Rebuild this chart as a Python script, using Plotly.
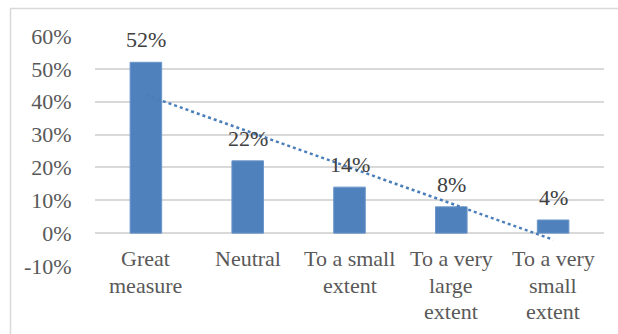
import numpy as np
import plotly.graph_objects as go

categories = ["Great<br>measure", "Neutral", "To a small<br>extent",
              "To a very<br>large<br>extent", "To a very<br>small<br>extent"]
values = [52, 22, 14, 8, 4]
y_ticks = [-10, 0, 10, 20, 30, 40, 50, 60]
y_tick_labels = ["-10%", "0%", "10%", "20%", "30%", "40%", "50%", "60%"]

W, H = 618, 334
ML, MR, MT, MB = 95, 14, 36, 68
FONT = "Liberation Serif"
BLUE = "#4f81bd"
GRID = "#d9d9d9"
LINE_STEP = 26.5  # px between wrapped category-label lines

xs = list(range(len(categories)))

# linear trendline fitted to the bar values
slope, intercept = np.polyfit(np.array(xs) + 1, values, 1)
trend_y = [slope * (x + 1) + intercept for x in xs]

fig = go.Figure()
fig.add_trace(go.Bar(
    x=xs, y=values, width=0.31,
    marker=dict(color=BLUE, line=dict(color="#6b95c9", width=1)),
    hoverinfo="skip",
))
fig.add_trace(go.Scatter(
    x=[xs[0], xs[-1]], y=[trend_y[0], trend_y[-1]], mode="lines",
    line=dict(color="#4a7ebb", width=2.5, dash="dot"),
    hoverinfo="skip",
))

annotations = []
for x, v in zip(xs, values):
    annotations.append(dict(
        x=x, y=v, xref="x", yref="y", text=f"{v}%", showarrow=False,
        yanchor="bottom", yshift=8,
        font=dict(family=FONT, size=22, color="#404040"),
    ))
for x, c in zip(xs, categories):
    for i, line in enumerate(c.split("<br>")):
        annotations.append(dict(
            x=x, y=0, xref="x", yref="y", text=line, showarrow=False,
            yanchor="top", yshift=-11 - i * LINE_STEP,
            font=dict(family=FONT, size=22, color="#595959"),
        ))

pw, ph = W - ML - MR, H - MT - MB
border = dict(
    type="rect", xref="paper", yref="paper",
    x0=(10.5 - ML) / pw, x1=(W + 2 - ML) / pw,
    y0=-(H + 2 - MT - ph) / ph, y1=(H - MB - 8.5) / ph,
    line=dict(color=GRID, width=1.5), layer="below",
)

fig.update_layout(
    width=W, height=H,
    margin=dict(l=ML, r=MR, t=MT, b=MB),
    paper_bgcolor="white", plot_bgcolor="white",
    showlegend=False,
    font=dict(family=FONT),
    annotations=annotations,
    shapes=[border],
    xaxis=dict(range=[-0.5, 4.5], showticklabels=False, showgrid=False,
               zeroline=False, fixedrange=True),
    yaxis=dict(range=[-10, 60], tickvals=y_ticks, ticktext=y_tick_labels,
               showgrid=True, gridcolor=GRID, gridwidth=1.5,
               zeroline=True, zerolinecolor=GRID, zerolinewidth=1.5,
               ticks="outside", ticklen=18, tickcolor="rgba(0,0,0,0)",
               tickfont=dict(family=FONT, size=22, color="#595959"),
               fixedrange=True),
)

fig.write_html("out.html")
